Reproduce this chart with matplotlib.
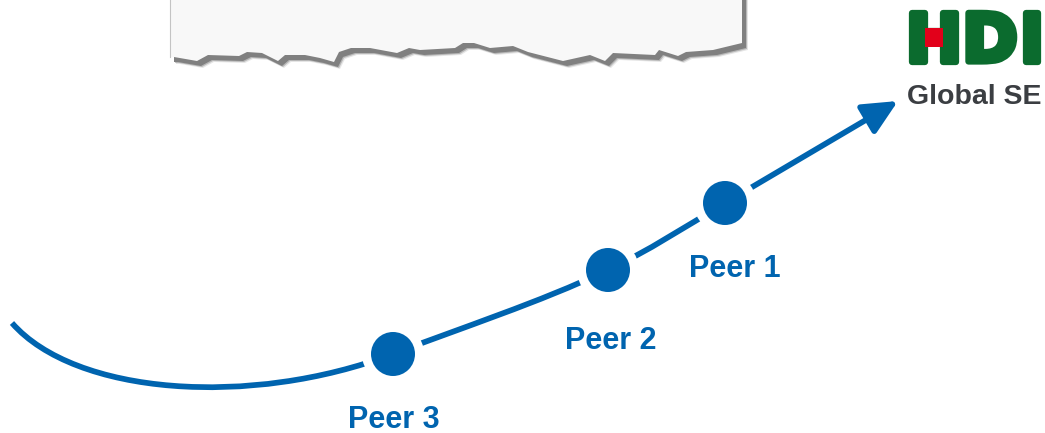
import numpy as np
import matplotlib
matplotlib.use("Agg")
import matplotlib.pyplot as plt
from matplotlib.patches import Circle, Polygon, Rectangle, PathPatch
from matplotlib.path import Path
import matplotlib.patheffects as pe

# ---------------- data ----------------
peer_labels = ["Peer 1", "Peer 2", "Peer 3"]
peer_x = [725, 608, 393]
peer_y = [203, 270, 354]
label_x = [735, 611, 394]
label_y = [277, 349, 428]          # text baselines

# growth curve: start point, then cubic Bezier segments (ctrl1, ctrl2, end)
curve_start = (12, 323)
curve_ctrl1 = [(75, 395), (463, 327), (648, 251)]
curve_ctrl2 = [(250, 408), (538, 303), (685, 227)]
curve_ends = [(393, 354), (608, 270), (725, 203)]
arrow_tip = (898, 101)

# torn paper bottom edge (x, y)
paper_x = [170, 174, 197, 208, 239, 247, 262, 278, 285, 305, 320, 334, 339, 351,
           370, 397, 409, 420, 455, 463, 474, 490, 513, 528, 563, 590, 605, 613, 655, 659,
           678, 686, 713, 742]
paper_y = [57, 57, 61, 55, 56, 52, 53, 61, 55, 55, 58, 62, 52, 48,
           48, 53, 48, 50, 48, 43, 43, 48, 46, 52, 61, 55, 61, 53, 55, 50,
           56, 52, 50, 43]

BLUE = "#0064AF"
GREEN = "#0B6B2E"
RED = "#E2001A"
GREY_TXT = "#3B3E42"

W, H = 1045, 433
fig = plt.figure(figsize=(W / 100, H / 100), dpi=100)
ax = fig.add_axes([0, 0, 1, 1])
ax.set_xlim(0, W)
ax.set_ylim(H, 0)
ax.axis("off")

# ---------------- torn paper ----------------
outline = [(paper_x[0], -10)] + list(zip(paper_x, paper_y)) + [(paper_x[-1], -10)]
for k, a in [(7, 0.2), (6, 0.45), (5, 1.0)]:
    shadow = [(x + k - 1, y + k) for x, y in outline]
    ax.add_patch(Polygon(shadow, closed=True, facecolor="#808080", edgecolor="none",
                         alpha=a, zorder=1))
ax.add_patch(Polygon(outline, closed=True, facecolor="#f8f8f8", edgecolor="none", zorder=1.5))
ax.plot([paper_x[0], paper_x[0]], [-10, paper_y[0]], color="#c4c4c4", lw=0.8, zorder=1.6)

# ---------------- curve ----------------
verts = [curve_start]
codes = [Path.MOVETO]
for c1, c2, e in zip(curve_ctrl1, curve_ctrl2, curve_ends):
    verts += [c1, c2, e]
    codes += [Path.CURVE4] * 3
ax.add_patch(PathPatch(Path(verts, codes), facecolor="none", edgecolor=BLUE,
                       lw=4.1, capstyle="butt", zorder=2))

# arrow from Peer 1 to the tip
ax.annotate("", xy=arrow_tip, xytext=(peer_x[0], peer_y[0]),
            arrowprops=dict(arrowstyle="-|>,head_length=0.42,head_width=0.2",
                            color=BLUE, lw=4.1, shrinkA=0, shrinkB=0,
                            mutation_scale=50),
            zorder=2)

# dots with white gap
for x, y in zip(peer_x, peer_y):
    ax.add_patch(Circle((x, y), 31, facecolor="white", edgecolor="none", zorder=3))
    ax.add_patch(Circle((x, y), 22, facecolor=BLUE, edgecolor="none", zorder=4))

for lab, x, y in zip(peer_labels, label_x, label_y):
    ax.text(x, y, lab, color=BLUE, fontsize=22, fontweight="bold",
            family="Liberation Sans", ha="center", va="baseline", zorder=5)

# ---------------- HDI logo ----------------
logo_letters = ["H", "D", "I"]
logo_cx = [934, 990, 1032]
for ch, cx in zip(logo_letters, logo_cx):
    ax.text(cx, 61.5, ch, color=GREEN, fontsize=48, fontweight="bold",
            family="DejaVu Sans", ha="center", va="baseline", zorder=5,
            path_effects=[pe.withStroke(linewidth=4.5, foreground=GREEN)])
ax.add_patch(Rectangle((925, 28), 18, 19, facecolor=RED, edgecolor="none", zorder=6))
ax.text(974, 104, "Global SE", color=GREY_TXT, fontsize=20.5, fontweight="bold",
        family="Liberation Sans", ha="center", va="baseline", zorder=5)

fig.savefig("out.png", dpi=100)
